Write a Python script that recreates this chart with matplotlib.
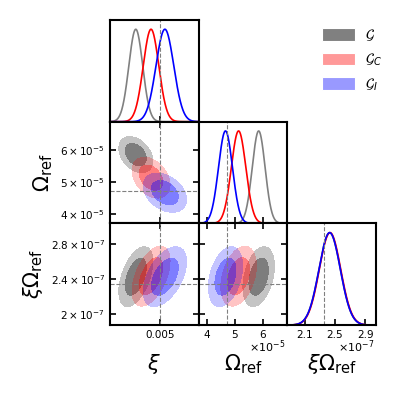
import numpy as np
import matplotlib
matplotlib.use('Agg')
import matplotlib.pyplot as plt
from matplotlib.patches import Patch
from matplotlib.ticker import FuncFormatter

# ---------------- data ----------------
set_labels = [r'$\mathcal{G}$', r'$\mathcal{G}_C$', r'$\mathcal{G}_I$']
line_colors = ['gray', 'red', 'blue']
fill_colors = ['black', 'red', 'blue']
legend_colors = ['#808080', '#ff9999', '#9999ff']

xi_mean = [0.00413, 0.00468, 0.00518]
xi_std = [0.00025, 0.00028, 0.00032]
om_mean = [5.85e-5, 5.13e-5, 4.66e-5]
om_std = [0.23e-5, 0.26e-5, 0.25e-5]
xo_mean = [2.43e-7, 2.435e-7, 2.43e-7]
xo_std = [0.14e-7, 0.14e-7, 0.14e-7]
rho_xi_om = -0.35
rho_xi_xo = 0.5
rho_om_xo = 0.35

truth = [0.005, 4.7e-5, 2.35e-7]
limits = [(0.0032, 0.0064), (3.7e-5, 6.88e-5), (1.875e-7, 3.04e-7)]
xticks = [[0.005], [4e-5, 5e-5, 6e-5], [2.1e-7, 2.5e-7, 2.9e-7]]
yticks = [None, [4e-5, 5e-5, 6e-5], [2e-7, 2.4e-7, 2.8e-7]]
axis_labels = [r'$\xi$', r'$\Omega_{\rm ref}$', r'$\xi\Omega_{\rm ref}$']
powers = [None, -5, -7]
# -------------------------------------

means = [xi_mean, om_mean, xo_mean]
stds = [xi_std, om_std, xo_std]
rho = {(0, 1): rho_xi_om, (0, 2): rho_xi_xo, (1, 2): rho_om_xo}

r68 = -2 * np.log(1 - 0.68)
r95 = -2 * np.log(1 - 0.95)

fig = plt.figure(figsize=(3.97, 3.97), dpi=100)
W, H = 397.0, 397.0
left, top = 110 / W, 20 / H
cw, rh = 88.7 / W, 101.7 / H

def sci_fmt(p):
    def f(v, pos):
        m = v / 10 ** p
        return r'$%s\times10^{%d}$' % (('%.1f' % m).rstrip('0').rstrip('.'), p)
    return f

def plain_fmt(p):
    def f(v, pos):
        if p is None:
            return ('%.4f' % v).rstrip('0')
        return ('%.1f' % (v / 10 ** p)).rstrip('0').rstrip('.')
    return f

for i in range(3):
    for j in range(i + 1):
        ax = fig.add_axes([left + j * cw, 1 - top - (i + 1) * rh, cw, rh])
        for s in ax.spines.values():
            s.set_linewidth(1.5)
        ax.tick_params(direction='in', length=4, width=1.2, labelsize=7.5,
                       top=(i != j), right=(i != j))
        ax.set_xlim(*limits[j])
        ax.set_xticks(xticks[j])
        ax.xaxis.set_major_formatter(FuncFormatter(plain_fmt(powers[j])))
        if i == j:
            grid = np.linspace(limits[j][0], limits[j][1], 400)
            for k in range(3):
                pdf = np.exp(-0.5 * ((grid - means[j][k]) / stds[j][k]) ** 2)
                ax.plot(grid, pdf / pdf.max(), color=line_colors[k], lw=1.2)
            ax.set_ylim(0, 1.1)
            ax.set_yticks([])
            ax.axvline(truth[j], color='gray', ls='--', lw=0.8)
        else:
            gx = np.linspace(limits[j][0], limits[j][1], 300)
            gy = np.linspace(limits[i][0], limits[i][1], 300)
            X, Y = np.meshgrid(gx, gy)
            r = rho[(j, i)]
            for k in range(3):
                dx = (X - means[j][k]) / stds[j][k]
                dy = (Y - means[i][k]) / stds[i][k]
                d2 = (dx ** 2 - 2 * r * dx * dy + dy ** 2) / (1 - r ** 2)
                ax.contourf(X, Y, d2, levels=[0, r95], colors=[fill_colors[k]], alpha=0.23)
                ax.contourf(X, Y, d2, levels=[0, r68], colors=[fill_colors[k]], alpha=0.36)
            ax.set_ylim(*limits[i])
            ax.set_yticks(yticks[i])
            ax.axvline(truth[j], color='gray', ls='--', lw=0.8)
            ax.axhline(truth[i], color='gray', ls='--', lw=0.8)
            if j == 0:
                ax.yaxis.set_major_formatter(FuncFormatter(sci_fmt(powers[i])))
                ax.set_ylabel(axis_labels[i], fontsize=15)
            else:
                ax.tick_params(labelleft=False)
        if i == 2:
            ax.set_xlabel(axis_labels[j], fontsize=15, labelpad=9)
            if powers[j] is not None:
                ax.text(0.98, -0.215, r'$\times10^{%d}$' % powers[j], transform=ax.transAxes,
                        ha='right', va='center', fontsize=8)
        else:
            ax.tick_params(labelbottom=False)

handles = [Patch(facecolor=c, edgecolor='#ffffff', lw=0.8) for c in legend_colors]
fig.legend(handles, set_labels, loc='upper left', bbox_to_anchor=(309 / W, 1 - 15 / H),
           frameon=False, fontsize=10, handlelength=2.4, handleheight=1.0,
           labelspacing=0.6, handletextpad=0.7)

fig.savefig('out.png', dpi=100)
